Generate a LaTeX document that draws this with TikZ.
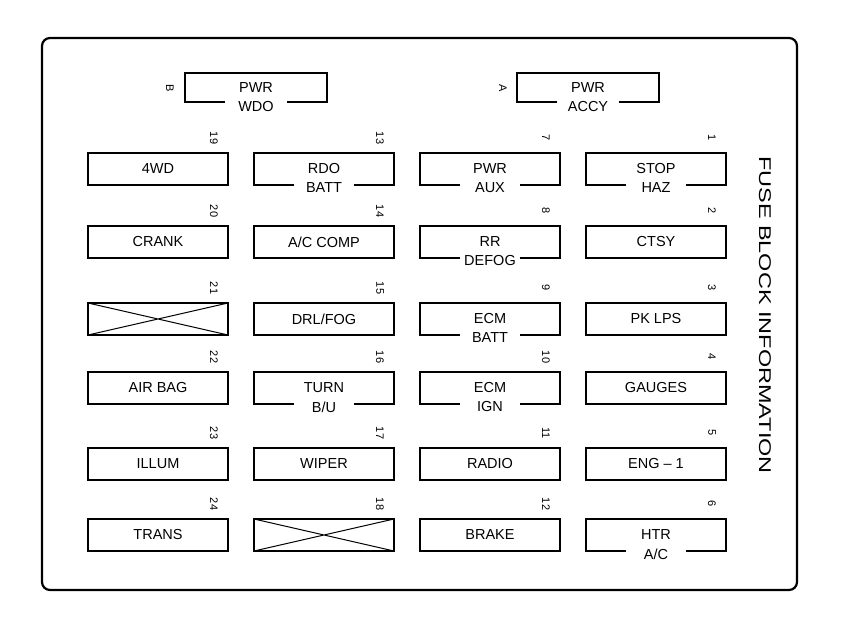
\documentclass[tikz,border=0pt]{standalone}
\usepackage{fontspec}
\setmainfont{Liberation Sans}
\begin{document}
\begin{tikzpicture}[x=1pt,y=-1pt,line width=1.6pt,
  lbl/.style={font=\fontsize{14.5}{15}\selectfont,inner sep=0pt},
  num/.style={font=\fontsize{11}{12}\selectfont,inner sep=0pt,rotate=-90}]
\useasboundingbox (0,0) rectangle (854,632);
\draw[line width=2.2pt,rounded corners=8pt] (42,38) rectangle (797,590);
% single-line fuse: x y num text
\newcommand\fone[4]{%
  \draw (#1,#2) rectangle ++(140,32);
  \node[lbl] at (#1+70,#2+16) {#4};
  \node[num] at (#1+126,#2-15) {#3};}
% two-line fuse
\newcommand\ftwo[5]{%
  \draw (#1+40,#2+32) -- (#1,#2+32) -- (#1,#2) -- (#1+140,#2) -- (#1+140,#2+32) -- (#1+100,#2+32);
  \node[lbl] at (#1+70,#2+16) {#4};
  \node[lbl] at (#1+70,#2+35) {#5};
  \node[num] at (#1+126,#2-15) {#3};}
\newcommand\fx[3]{%
  \draw (#1,#2) rectangle ++(140,32);
  \draw[line width=1pt] (#1,#2) -- ++(140,32) (#1,#2+32) -- ++(140,-32);
  \node[num] at (#1+126,#2-15) {#3};}
% top
\draw (225,102) -- (185,102) -- (185,73) -- (327,73) -- (327,102) -- (287,102);
\node[lbl] at (256,88) {PWR}; \node[lbl] at (256,107) {WDO};
\node[num] at (170,88) {B};
\draw (557,102) -- (517,102) -- (517,73) -- (659,73) -- (659,102) -- (619,102);
\node[lbl] at (588,88) {PWR}; \node[lbl] at (588,107) {ACCY};
\node[num] at (503,88) {A};
% columns
\fone{88}{153}{19}{4WD}
\fone{88}{226}{20}{CRANK}
\fx{88}{303}{21}
\fone{88}{372}{22}{AIR BAG}
\fone{88}{448}{23}{ILLUM}
\fone{88}{519}{24}{TRANS}
\ftwo{254}{153}{13}{RDO}{BATT}
\fone{254}{226}{14}{A/C COMP}
\fone{254}{303}{15}{DRL/FOG}
\ftwo{254}{372}{16}{TURN}{B/U}
\fone{254}{448}{17}{WIPER}
\fx{254}{519}{18}
\ftwo{420}{153}{7}{PWR}{AUX}
\ftwo{420}{226}{8}{RR}{DEFOG}
\ftwo{420}{303}{9}{ECM}{BATT}
\ftwo{420}{372}{10}{ECM}{IGN}
\fone{420}{448}{11}{RADIO}
\fone{420}{519}{12}{BRAKE}
\ftwo{586}{153}{1}{STOP}{HAZ}
\fone{586}{226}{2}{CTSY}
\fone{586}{303}{3}{PK LPS}
\fone{586}{372}{4}{GAUGES}
\fone{586}{448}{5}{ENG -- 1}
\ftwo{586}{519}{6}{HTR}{A/C}
\node[font=\fontsize{17}{18}\selectfont,rotate=-90,xscale=1.38,inner sep=0pt] at (765,315) {FUSE BLOCK INFORMATION};
\end{tikzpicture}
\end{document}
